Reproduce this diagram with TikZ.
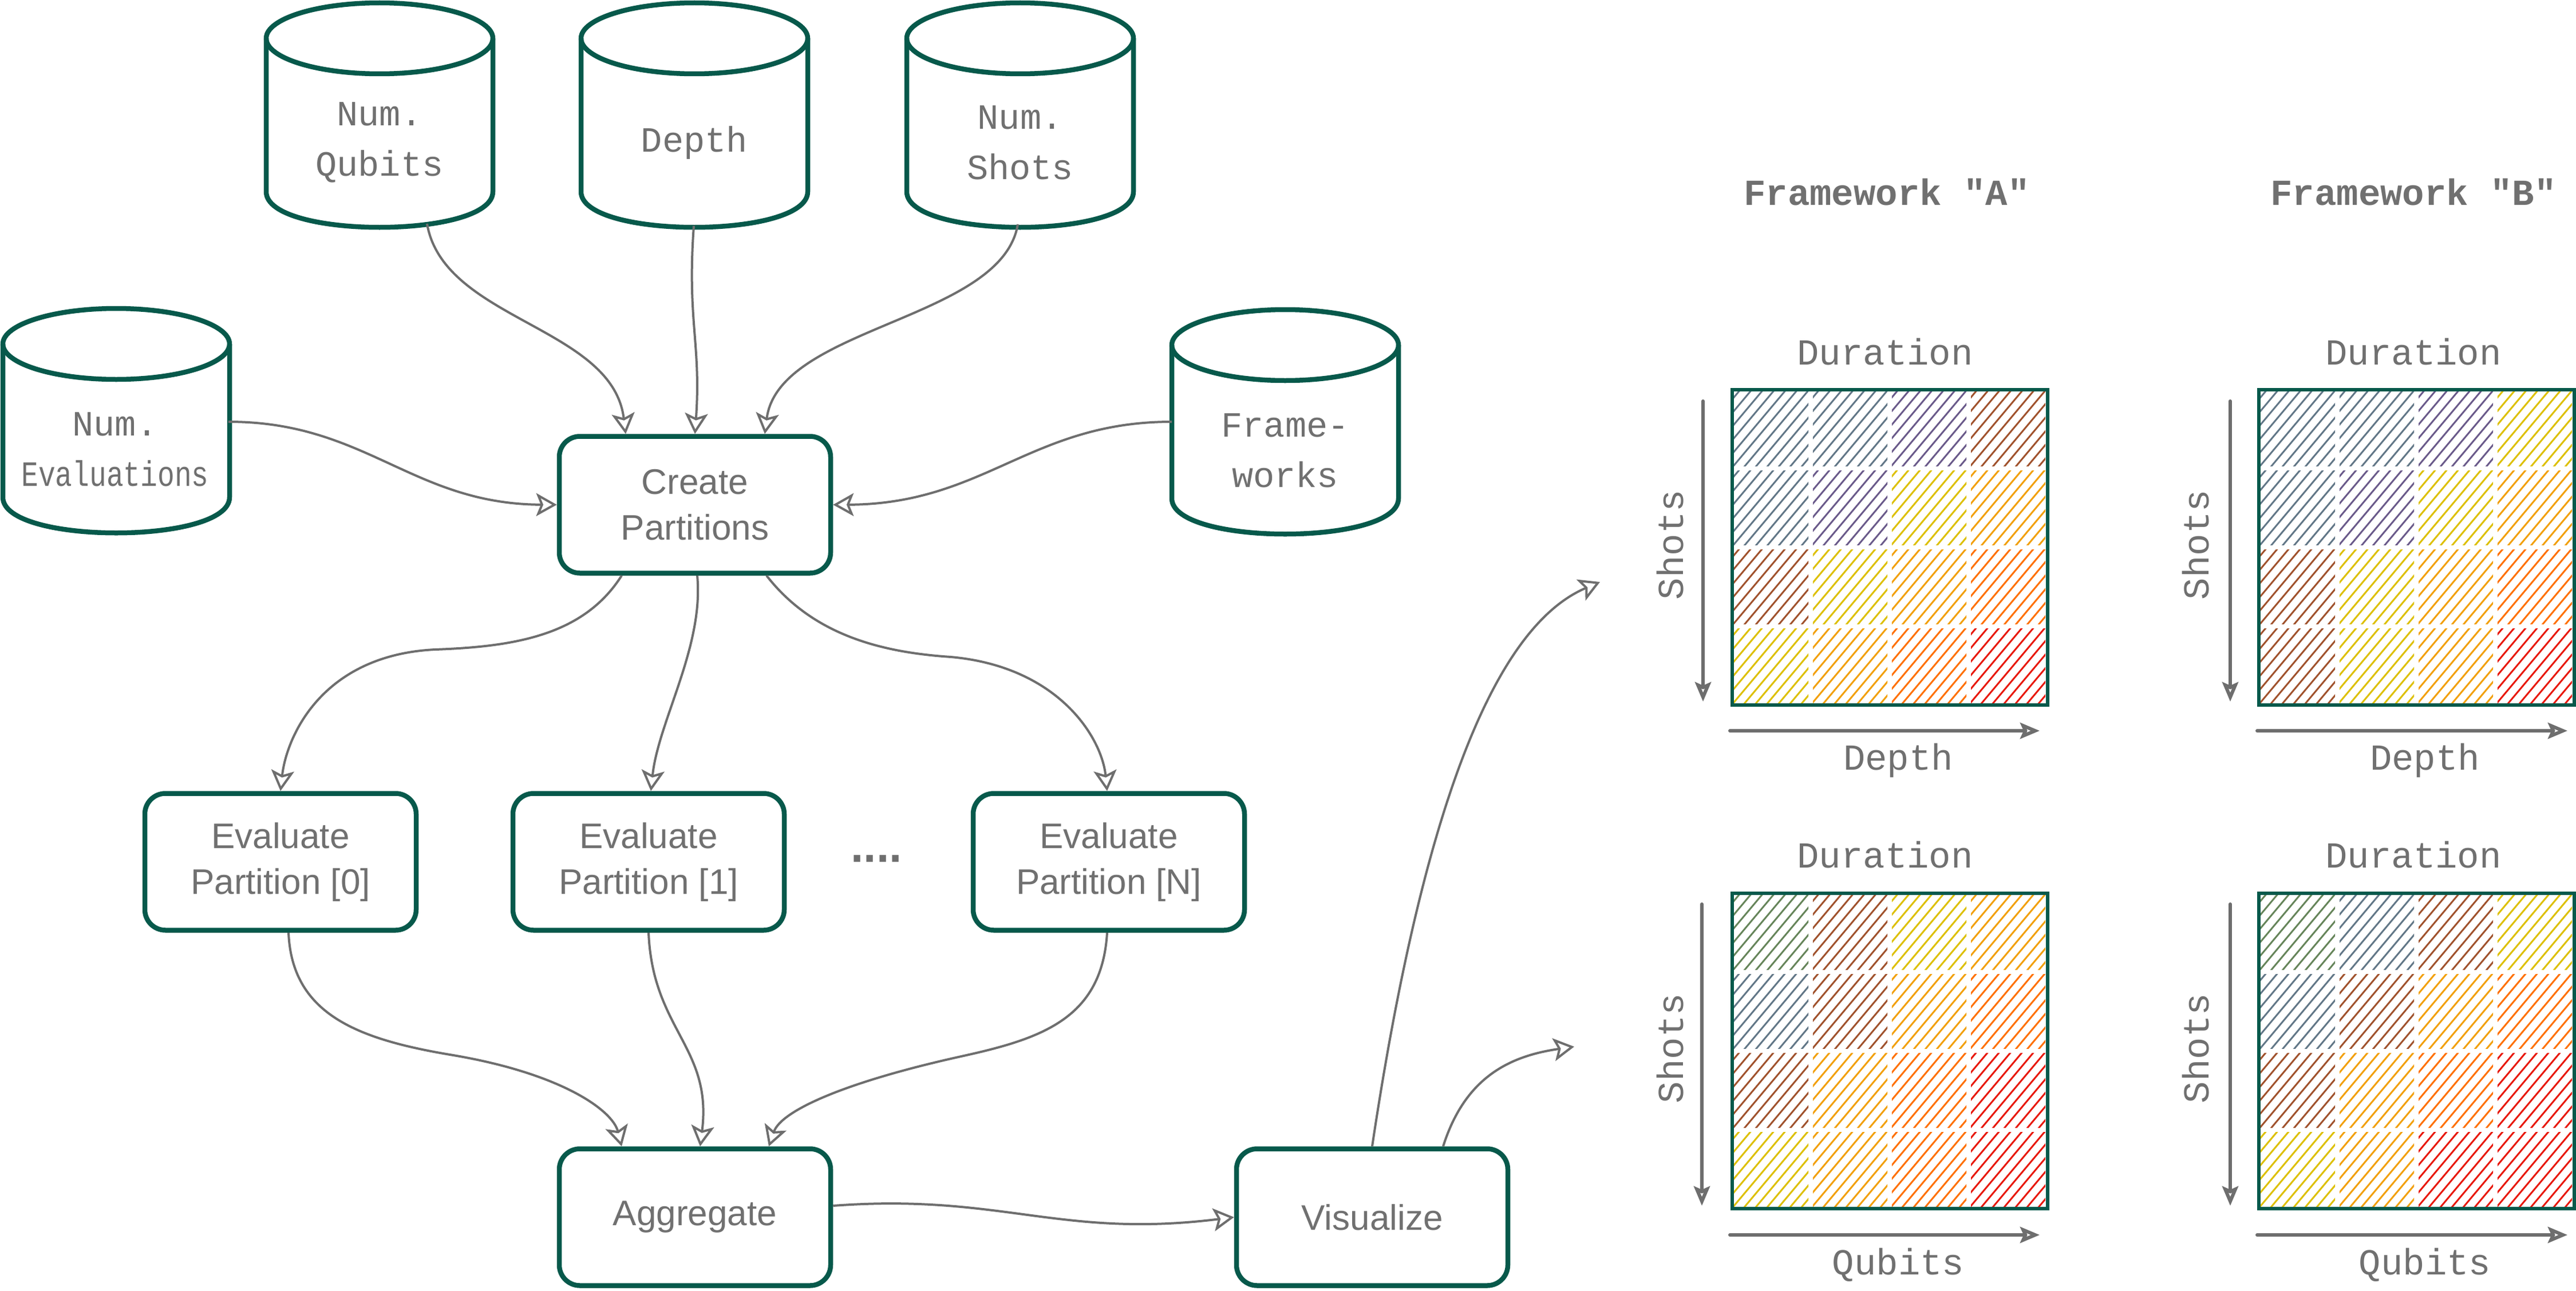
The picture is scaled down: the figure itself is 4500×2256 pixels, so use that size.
\documentclass[tikz,border=0pt]{standalone}
\usepackage{fontspec}
\setmainfont{Liberation Sans}
\newfontfamily\monof{Liberation Mono}
\usepackage{graphicx}
\usetikzlibrary{arrows.meta,calc}
\definecolor{teal1}{HTML}{07594B}
\definecolor{txt}{HTML}{707070}
\definecolor{conn1}{HTML}{6E6E6E}
\definecolor{slate}{HTML}{627787}
\definecolor{purp}{HTML}{6A5A8A}
\definecolor{brn}{HTML}{A0522D}
\definecolor{yel}{HTML}{DDC000}
\definecolor{amb}{HTML}{F2A00C}
\definecolor{dor}{HTML}{FF7000}
\definecolor{hred}{HTML}{E8180C}
\definecolor{sage}{HTML}{66855A}
\newcommand{\mycyl}[2]{%
  \draw[cylst] (#1,#2+62) ellipse [x radius=198pt, y radius=62pt];
  \draw[cylst] (#1-198,#2+62) -- (#1-198,#2+330) .. controls (#1-198,#2+413) and (#1+198,#2+413) .. (#1+198,#2+330) -- (#1+198,#2+62);
}
\newcommand{\hmcell}[3]{%
  \begin{scope}
    \clip (#1+4,#2+4) rectangle (#1+134,#2+134);
    \foreach \k in {0,...,14} {\draw[hatch,#3] (#1-140+\k*20,#2+138) -- ++(116,-138);}
  \end{scope}
}
\newcommand{\hmrow}[6]{%
  \hmcell{#1}{#2}{#3}\hmcell{#1+138}{#2}{#4}\hmcell{#1+276}{#2}{#5}\hmcell{#1+414}{#2}{#6}%
}
\begin{document}
\begin{tikzpicture}[x=1pt,y=-1pt,
  cylst/.style={draw=teal1, line width=8.5pt, line join=round},
  cylnode/.style={minimum width=396pt, minimum height=292pt, inner sep=0pt, outer sep=0pt, align=center, text=txt, font=\monof\fontsize{62}{88}\selectfont},
  procbox/.style={draw=teal1, line width=8.5pt, rounded corners=36pt, minimum width=474pt, minimum height=239pt, align=center, text=txt, font=\fontsize{62}{80}\selectfont},
  conn/.style={draw=conn1, line width=4pt, -{Stealth[open, length=36pt, width=40pt, inset=8pt]}},
  axisarr/.style={draw=conn1, line width=6pt, line cap=round, -{Stealth[open, length=34pt, width=28pt, inset=6pt]}},
  hatch/.style={line width=3pt, line cap=round},
  hmbox/.style={draw=teal1, line width=6pt, minimum width=551pt, minimum height=551pt, inner sep=0pt},
  lbl/.style={text=txt, font=\monof\fontsize{64}{70}\selectfont, anchor=base},
  ttl/.style={text=txt, font=\monof\bfseries\fontsize{64}{70}\selectfont, anchor=base}
]
\fill[white] (0,0) rectangle (4500,2256);
\useasboundingbox (0,0) rectangle (4500,2256);

% ---------- cylinders ----------
\mycyl{663}{5}
\mycyl{1213}{5}
\mycyl{1782}{5}
\mycyl{203}{539}
\mycyl{2245}{541}
\node[cylnode] (cq) at (663,249) {Num.\\Qubits};
\node[cylnode] (cd) at (1213,249) {Depth};
\node[cylnode] (cs) at (1782,249) {Num.\\Shots};
\node[cylnode] (ce) at (201,785) {Num.\\\scalebox{0.8}[1]{Evaluations}};
\node[cylnode] (cf) at (2245,787) {Frame-\\works};

% ---------- process boxes ----------
\node[procbox] (cp) at (1214,882) {Create\\Partitions};
\node[procbox] (e0) at (490,1506) {Evaluate\\Partition [0]};
\node[procbox] (e1) at (1133,1506) {Evaluate\\Partition [1]};
\node[procbox] (eN) at (1937,1506) {Evaluate\\Partition [N]};
\node[procbox] (ag) at (1214,2127) {Aggregate};
\node[procbox] (vz) at (2397,2127) {Visualize};
\node[anchor=base, text=conn1, font=\fontsize{80}{80}\bfseries\selectfont] (dots) at (1531,1506) {....};

% ---------- heatmaps ----------
\hmrow{3025}{680}{slate}{slate}{purp}{brn}
\hmrow{3025}{818}{slate}{purp}{yel}{amb}
\hmrow{3025}{956}{brn}{yel}{amb}{dor}
\hmrow{3025}{1094}{yel}{amb}{dor}{hred}
\node[hmbox] (hA1) at (3301,956) {};
\hmrow{3945}{680}{slate}{slate}{purp}{yel}
\hmrow{3945}{818}{slate}{purp}{yel}{amb}
\hmrow{3945}{956}{brn}{yel}{amb}{dor}
\hmrow{3945}{1094}{brn}{yel}{amb}{hred}
\node[hmbox] (hB1) at (4221,956) {};
\hmrow{3025}{1560}{sage}{brn}{yel}{amb}
\hmrow{3025}{1698}{slate}{brn}{amb}{dor}
\hmrow{3025}{1836}{brn}{amb}{dor}{hred}
\hmrow{3025}{1974}{yel}{amb}{dor}{hred}
\node[hmbox] (hA2) at (3301,1836) {};
\hmrow{3945}{1560}{sage}{slate}{brn}{yel}
\hmrow{3945}{1698}{slate}{brn}{amb}{dor}
\hmrow{3945}{1836}{brn}{amb}{dor}{hred}
\hmrow{3945}{1974}{yel}{amb}{hred}{hred}
\node[hmbox] (hB2) at (4221,1836) {};

% titles and axis labels
\node[ttl] (tA) at (3296,358) {Framework "A"};
\node[ttl] (tB) at (4216,358) {Framework "B"};
\node[lbl] (dA1) at (3293,637) {Duration};
\node[lbl] (dB1) at (4216,637) {Duration};
\node[lbl] (dA2) at (3293,1516) {Duration};
\node[lbl] (dB2) at (4216,1516) {Duration};
\node[lbl] (xA1) at (3316,1345) {Depth};
\node[lbl] (xB1) at (4236,1345) {Depth};
\node[lbl] (xA2) at (3316,2227) {Qubits};
\node[lbl] (xB2) at (4236,2227) {Qubits};
\node[lbl, anchor=center, rotate=90] (yA1) at (2918,952) {Shots};
\node[lbl, anchor=center, rotate=90] (yB1) at (3836,952) {Shots};
\node[lbl, anchor=center, rotate=90] (yA2) at (2918,1832) {Shots};
\node[lbl, anchor=center, rotate=90] (yB2) at (3836,1832) {Shots};

% axis arrows
\coordinate (ya1s) at (2975,701);  \coordinate (ya1e) at (2975,1226);
\coordinate (yb1s) at (3896,701);  \coordinate (yb1e) at (3896,1226);
\coordinate (ya2s) at (2973,1580); \coordinate (ya2e) at (2973,2107);
\coordinate (yb2s) at (3896,1580); \coordinate (yb2e) at (3896,2107);
\coordinate (xa1s) at (3022,1277); \coordinate (xa1e) at (3563,1277);
\coordinate (xb1s) at (3943,1277); \coordinate (xb1e) at (4485,1277);
\coordinate (xa2s) at (3022,2158); \coordinate (xa2e) at (3563,2158);
\coordinate (xb2s) at (3943,2158); \coordinate (xb2e) at (4485,2158);
\draw[axisarr] (ya1s) -- (ya1e);
\draw[axisarr] (yb1s) -- (yb1e);
\draw[axisarr] (ya2s) -- (ya2e);
\draw[axisarr] (yb2s) -- (yb2e);
\draw[axisarr] (xa1s) -- (xa1e);
\draw[axisarr] (xb1s) -- (xb1e);
\draw[axisarr] (xa2s) -- (xa2e);
\draw[axisarr] (xb2s) -- (xb2e);

% ---------- connectors ----------
\draw[conn] ([xshift=83pt,yshift=4pt]cq.south) .. controls (775,560) and (1070,570) .. ([xshift=-121pt]cp.north);
\draw[conn] ([xshift=-1pt]cd.south) .. controls (1200,560) and (1225,600) .. (cp.north);
\draw[conn] ([xshift=-4pt,yshift=3pt]cs.south) .. controls (1750,560) and (1360,570) .. ([xshift=122pt]cp.north);
\draw[conn] ([yshift=48pt]ce.east) .. controls (640,737) and (720,881) .. (cp.west);
\draw[conn] ([yshift=50pt]cf.west) .. controls (1800,737) and (1720,881) .. (cp.east);

\draw[conn] ([xshift=-128pt]cp.south) .. controls (1020,1110) and (900,1130) .. (760,1135) .. controls (560,1145) and (500,1290) .. (e0.north);
\draw[conn] ([xshift=4pt]cp.south) .. controls (1230,1130) and (1150,1260) .. ([xshift=4pt]e1.north);
\draw[conn] ([xshift=125pt]cp.south) .. controls (1420,1110) and (1540,1140) .. (1661,1148) .. controls (1850,1165) and (1925,1290) .. ([xshift=-3pt]eN.north);

\draw[conn] ([xshift=14pt]e0.south) .. controls (510,1770) and (620,1815) .. (786,1843) .. controls (980,1875) and (1070,1940) .. ([xshift=-128pt]ag.north);
\draw[conn] (e1.south) .. controls (1140,1800) and (1245,1830) .. ([xshift=9pt]ag.north);
\draw[conn] ([xshift=-3pt]eN.south) .. controls (1925,1780) and (1820,1815) .. (1679,1846) .. controls (1480,1890) and (1365,1940) .. ([xshift=129pt]ag.north);

\draw[conn] ([yshift=20pt]ag.east) .. controls (1750,2085) and (1850,2165) .. (vz.west);

\coordinate (t1) at (2795,1017);
\coordinate (t2) at (2750,1829);
\draw[conn] (vz.north) .. controls (2480,1450) and (2600,1100) .. (t1);
\draw[conn] ([xshift=124pt]vz.north) .. controls (2560,1880) and (2640,1845) .. (t2);
\end{tikzpicture}
\end{document}
